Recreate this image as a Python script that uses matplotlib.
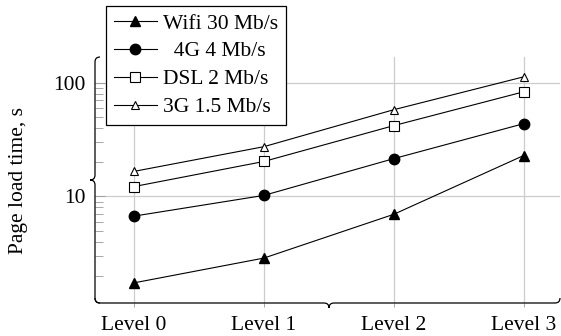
import numpy as np
import matplotlib.pyplot as plt
from matplotlib.path import Path
from matplotlib.patches import PathPatch

plt.rcParams['font.family'] = ['Liberation Serif', 'DejaVu Serif']
plt.rcParams['mathtext.fontset'] = 'stix'

# data
levels = ['Level 0', 'Level 1', 'Level 2', 'Level 3']
wifi = [1.73, 2.86, 6.95, 22.9]
g4 = [6.7, 10.2, 21.5, 43.7]
dsl = [12.2, 20.3, 42.0, 83.4]
g3 = [16.6, 27.4, 58.0, 113.0]
labels = ['Wifi 30 Mb/s', '  4G 4 Mb/s', 'DSL 2 Mb/s', '3G 1.5 Mb/s']

fig = plt.figure(figsize=(5.61, 3.36), dpi=100)
ax = fig.add_axes([95/561, 1-303/336, 465/561, 246/336])

x = np.arange(len(levels))
ax.plot(x, wifi, 'k-', lw=0.8, marker='^', ms=6.5, label=labels[0])
ax.plot(x, g4, 'k-', lw=0.8, marker='o', ms=7.5, label=labels[1])
ax.plot(x, dsl, 'k-', lw=0.8, marker='s', ms=7, mfc='white', mew=0.8, label=labels[2])
ax.plot(x, g3, 'k-', lw=0.8, marker='^', ms=6, mfc='white', mew=0.8, label=labels[3])

ax.set_yscale('log')
ax.set_ylim(1.15, 169)
ax.set_xlim(-0.3, 3.28)
ax.set_xticks(x)
ax.set_xticklabels(levels, fontsize=15.5)
ax.set_yticks([10, 100])
ax.set_yticklabels(['10', '100'], fontsize=15.5)
ax.tick_params(axis='x', length=3, width=0.6, color='#999999', pad=6)
ax.tick_params(axis='y', which='major', direction='in', length=7, width=0.6, color='#999999', pad=7)
ax.tick_params(axis='y', which='minor', direction='in', length=6, width=0.6, color='#999999', labelleft=False)
ax.grid(True, which='major', color='#cccccc', lw=0.9)
ax.set_axisbelow(True)
ax.set_ylabel('Page load time, s', fontsize=15.5, labelpad=18)
for s in ax.spines.values():
    s.set_visible(False)

# brace-shaped axis lines
dx = 5/465
dy = 5/246
left = Path([(dx, 0), (0, 0), (0, dy), (0, 0.5-dy), (0, 0.5), (-dx, 0.5),
             (0, 0.5), (0, 0.5+dy), (0, 1-dy), (0, 1), (dx, 1)],
            [Path.MOVETO, Path.CURVE3, Path.CURVE3, Path.LINETO, Path.CURVE3, Path.CURVE3,
             Path.CURVE3, Path.CURVE3, Path.LINETO, Path.CURVE3, Path.CURVE3])
m = (329-95)/465
bottom = Path([(0, dy), (0, 0), (dx, 0), (m-dx, 0), (m, 0), (m, -dy),
               (m, 0), (m+dx, 0), (1-dx, 0), (1, 0), (1, dy)],
              [Path.MOVETO, Path.CURVE3, Path.CURVE3, Path.LINETO, Path.CURVE3, Path.CURVE3,
               Path.CURVE3, Path.CURVE3, Path.LINETO, Path.CURVE3, Path.CURVE3])
for p in (left, bottom):
    ax.add_patch(PathPatch(p, transform=ax.transAxes, fill=False, lw=0.9,
                           ec='black', clip_on=False))

leg = ax.legend(loc='upper left', bbox_to_anchor=(106/561, 1-6/336),
                bbox_transform=fig.transFigure, fontsize=15.5, handlelength=2.0,
                fancybox=False, framealpha=1, edgecolor='black',
                borderpad=0.35, labelspacing=0.36, handletextpad=0.3, borderaxespad=0)
leg.get_frame().set_linewidth(0.9)

fig.savefig('out.png', dpi=100)
